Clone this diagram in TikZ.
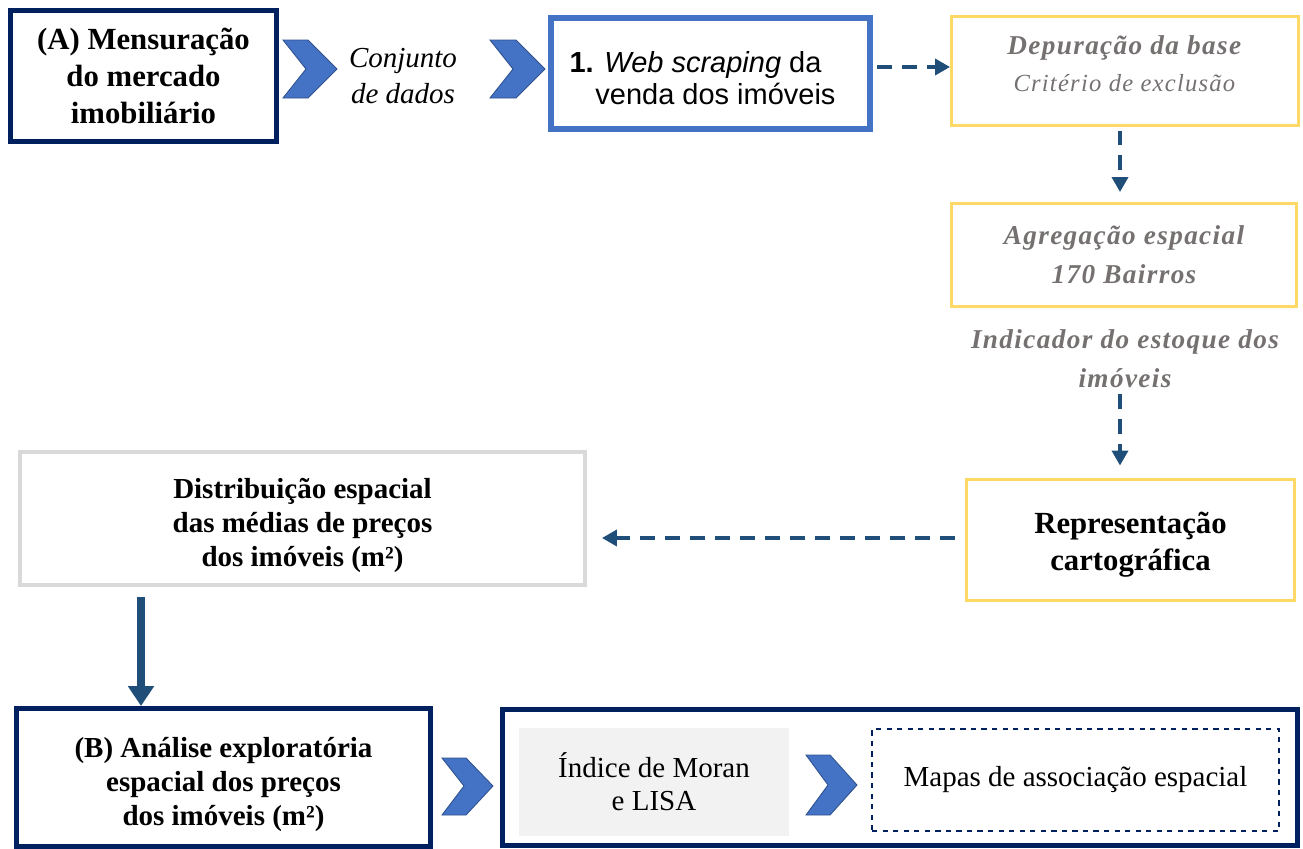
\documentclass[tikz,border=0pt]{standalone}
\usepackage{fontspec}
\setmainfont{Liberation Serif}
\setsansfont{Liberation Sans}
\newfontfamily\widefont{Liberation Serif}[LetterSpace=5]
\usetikzlibrary{arrows.meta}
\definecolor{navy}{HTML}{002060}
\definecolor{chevblue}{HTML}{4472C4}
\definecolor{chevedge}{HTML}{2F528F}
\definecolor{boxyellow}{HTML}{FFD966}
\definecolor{boxgrey}{HTML}{D9D9D9}
\definecolor{textgrey}{HTML}{767171}
\definecolor{arrowblue}{HTML}{1F4E79}
\definecolor{fillgrey}{HTML}{F2F2F2}
\begin{document}
\begin{tikzpicture}[x=0.02cm, y=-0.02cm,
  navybox/.style={draw=navy, line width=2.8pt, align=center, inner sep=0pt},
  yellowbox/.style={draw=boxyellow, line width=1.7pt, align=center, inner sep=0pt},
  bigtext/.style={font=\fontsize{17.5}{21}\selectfont\bfseries},
  greytext/.style={text=textgrey, font=\widefont\fontsize{15.5}{22}\selectfont\bfseries\itshape},
  dasharrow/.style={arrowblue, line width=2pt, dash pattern=on 0.3cm off 0.2cm, -{Triangle[length=0.3cm,width=0.32cm]}},
  chev/.style={fill=chevblue, draw=chevedge, line width=0.5pt}]
\useasboundingbox (0,0) rectangle (1303,849);

% Top row
\node[navybox, bigtext, minimum width=5.32cm, minimum height=2.62cm] (mens) at (143.5,76)
  {(A) Mensuração\\do mercado\\imobiliário};
\node[font=\fontsize{16.5}{20.5}\selectfont\itshape, align=center] (conj) at (403,76) {Conjunto\\de dados};
\node[draw=chevblue, line width=3.3pt, align=center, minimum width=6.38cm, minimum height=2.22cm,
  font=\sffamily\fontsize{16.5}{18.5}\selectfont] (web) at (710.5,73.5)
  {\rule{0pt}{17pt}\textbf{1.} \textit{Web scraping} da\hspace*{0.6cm}\\\hspace*{0.2cm}venda dos imóveis};

% Chevrons
\draw[chev] (283,40) -- (308,40) -- (337,69) -- (308,98) -- (283,98) -- (306,69) -- cycle;
\draw[chev] (490,40) -- (516,40) -- (545,69) -- (516,98) -- (490,98) -- (513,69) -- cycle;
\draw[chev] (442,758) -- (466,758) -- (493,786) -- (466,815) -- (442,815) -- (464,786) -- cycle;
\draw[chev] (806,755) -- (830,755) -- (857,785) -- (830,815) -- (806,815) -- (828,785) -- cycle;

% Right column
\node[yellowbox, minimum width=6.94cm, minimum height=2.18cm, text=textgrey,
  font=\widefont\fontsize{15.5}{21.5}\selectfont] (dep) at (1125,71)
  {\textbf{\textit{Depuração da base}}\\
   {\fontsize{14}{21.5}\selectfont\textit{Critério de exclusão}}\\[-13pt]\mbox{}};
\node[yellowbox, greytext, minimum width=6.9cm, minimum height=2.06cm] (agr) at (1124,255)
  {Agregação espacial\\170 Bairros};
\node[greytext, align=center] (ind) at (1125,359) {Indicador do estoque dos\\imóveis};
\node[yellowbox, bigtext, minimum width=6.56cm, minimum height=2.42cm] (rep) at (1130.5,540)
  {\rule{0pt}{18pt}Representação\\cartográfica};

% Middle
\node[draw=boxgrey, line width=2.3pt, align=center, inner sep=0pt, minimum width=11.3cm, minimum height=2.66cm,
  font=\fontsize{16.5}{19.3}\selectfont\bfseries] (dist) at (302.5,518.5)
  {\rule{0pt}{19pt}Distribuição espacial\\das médias de preços\\dos imóveis (m²)};

% Bottom row
\node[navybox, minimum width=8.28cm, minimum height=2.76cm,
  font=\fontsize{16.5}{19.3}\selectfont\bfseries] (anal) at (223.5,777.5)
  {\rule{0pt}{19pt}(B) Análise exploratória\\espacial dos preços\\dos imóveis (m²)};
\node[navybox, minimum width=15.9cm, minimum height=2.72cm] (res) at (900,777.5) {};
\node[fill=fillgrey, align=center, minimum width=5.4cm, minimum height=2.16cm,
  font=\fontsize{16.5}{18.8}\selectfont] (moran) at (654,782) {Índice de Moran\\e LISA};
\node[draw=navy, dashed, line width=0.8pt, minimum width=8.14cm, minimum height=2.04cm,
  font=\fontsize{16.5}{18.8}\selectfont] (mapas) at (1075.5,780) {Mapas de associação espacial};

% Connectors
\draw[dasharrow] (web.east |- 0,67) ++(4,0) -- (dep.west |- 0,67);
\draw[dasharrow, shorten <=2pt, shorten >=0.2cm] (dep.south -| 1120,0) -- (agr.north -| 1120,0);
\draw[dasharrow, shorten >=0.25cm] (ind.south -| 1120,0) -- (rep.north -| 1120,0);
\draw[dasharrow, shorten <=0.2cm, shorten >=0.3cm] (rep.west |- 0,538) -- (dist.east |- 0,538);
\coordinate (down) at (141,597);
\draw[arrowblue, line width=4.5pt, -{Triangle[length=0.4cm,width=0.5cm]}] (down) -- (down |- anal.north);
\end{tikzpicture}
\end{document}
